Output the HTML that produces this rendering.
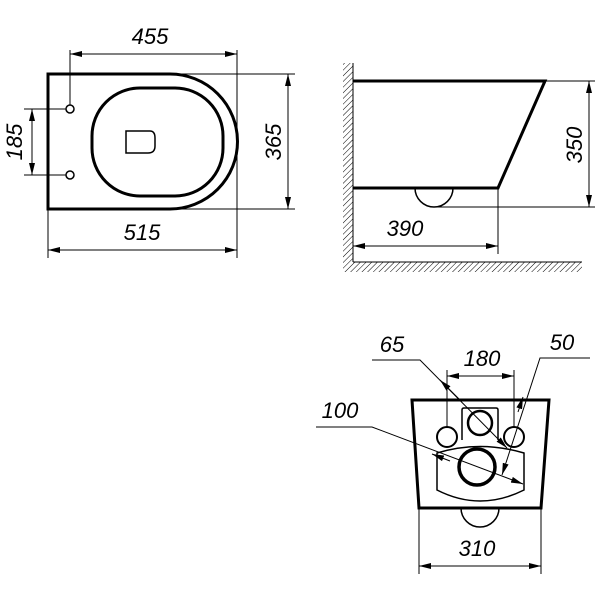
<!DOCTYPE html>
<html><head><style>body{margin:0;background:#fff}svg{display:block}text{font-family:"Liberation Sans",sans-serif;font-style:italic;font-size:22px;fill:#000}</style></head>
<body>
<svg width="600" height="600" viewBox="0 0 600 600" xmlns="http://www.w3.org/2000/svg">
<defs>
<marker id="a" viewBox="0 0 12 6" refX="12" refY="3" markerWidth="12" markerHeight="6" orient="auto-start-reverse" markerUnits="userSpaceOnUse"><path d="M0,0 L12,3 L0,6 Z" fill="#000"/></marker>
<pattern id="h" width="4" height="4" patternUnits="userSpaceOnUse" patternTransform="rotate(45)"><line x1="0" y1="0" x2="0" y2="4" stroke="#000" stroke-width="1"/></pattern>
</defs>
<g fill="none" stroke="#000">
<!-- Top view -->
<path d="M48,74 H170 A67.5,67.5 0 0 1 170,209 H48 Z" stroke-width="3"/>
<rect x="92" y="88" width="131" height="108" rx="48" stroke-width="3"/>
<path d="M126,131 H150 Q155,131 155,138 V146 Q155,153 148,153 H126 Z" stroke-width="1.5"/>
<circle cx="70" cy="109" r="4" stroke-width="1.5"/>
<circle cx="70" cy="175" r="4" stroke-width="1.5"/>
<g stroke-width="1">
<line x1="70" y1="50" x2="70" y2="105"/>
<line x1="237" y1="50" x2="237" y2="258"/>
<line x1="70" y1="54" x2="237" y2="54" marker-start="url(#a)" marker-end="url(#a)"/>
<line x1="24" y1="109" x2="66" y2="109"/>
<line x1="24" y1="175" x2="66" y2="175"/>
<line x1="32" y1="109" x2="32" y2="175" marker-start="url(#a)" marker-end="url(#a)"/>
<line x1="170" y1="74" x2="295" y2="74"/>
<line x1="170" y1="209" x2="295" y2="209"/>
<line x1="288" y1="74" x2="288" y2="209" marker-start="url(#a)" marker-end="url(#a)"/>
<line x1="48" y1="209" x2="48" y2="258"/>
<line x1="48" y1="250" x2="237" y2="250" marker-start="url(#a)" marker-end="url(#a)"/>
</g>
<!-- Side view -->
<rect x="343" y="63" width="10" height="199" fill="url(#h)" stroke="none"/>
<rect x="343" y="262" width="239" height="10" fill="url(#h)" stroke="none"/>
<line x1="353" y1="63" x2="353" y2="262" stroke-width="1"/>
<line x1="353" y1="262" x2="582" y2="262" stroke-width="1"/>
<path d="M353,81 H545 L498,188 H353" stroke-width="3"/>
<path d="M415,188 A19,19 0 0 0 453,188" stroke-width="1.5"/>
<g stroke-width="1">
<line x1="545" y1="81" x2="595" y2="81"/>
<line x1="434" y1="207" x2="595" y2="207"/>
<line x1="589" y1="81" x2="589" y2="207" marker-start="url(#a)" marker-end="url(#a)"/>
<line x1="498" y1="188" x2="498" y2="254"/>
<line x1="353" y1="246" x2="498" y2="246" marker-start="url(#a)" marker-end="url(#a)"/>
</g>
<!-- Front view -->
<path d="M412,400 H549 L541,508 H419 Z" stroke-width="3"/>
<path d="M462,440 V410 Q462,408 464,408 H496 Q498,408 498,410 V440" stroke-width="1.5"/>
<circle cx="480" cy="423" r="12" stroke-width="2.5"/>
<circle cx="447" cy="437" r="10" stroke-width="2"/>
<circle cx="514" cy="437" r="10" stroke-width="2"/>
<path d="M437,453 Q480,440 524,453 V490 Q480,512 437,490 Z" stroke-width="1.5"/>
<circle cx="477" cy="467" r="18" stroke-width="3.5"/>
<path d="M461,508 A19,19 0 0 0 499,508" stroke-width="1.5"/>
<g stroke-width="1">
<line x1="447" y1="370" x2="447" y2="427"/>
<line x1="514" y1="370" x2="514" y2="427"/>
<line x1="447" y1="376" x2="514" y2="376" marker-start="url(#a)" marker-end="url(#a)"/>
<line x1="419" y1="508" x2="419" y2="574"/>
<line x1="541" y1="508" x2="541" y2="574"/>
<line x1="419" y1="566" x2="541" y2="566" marker-start="url(#a)" marker-end="url(#a)"/>
<polyline points="372,360 420,360 507,448" marker-end="url(#a)"/>
<line x1="460" y1="400" x2="440" y2="380" marker-end="url(#a)"/>
<polyline points="316,427 372,427 523,484" marker-end="url(#a)"/>
<line x1="450" y1="461" x2="432" y2="454" marker-end="url(#a)"/>
<polyline points="590,358 540,358 502,475" marker-end="url(#a)"/>
<line x1="518" y1="412" x2="523" y2="397" marker-end="url(#a)"/>
</g>
</g>
<text x="150" y="44" text-anchor="middle">455</text>
<text x="142" y="240" text-anchor="middle">515</text>
<text transform="translate(22,142) rotate(-90)" text-anchor="middle">185</text>
<text transform="translate(281,142) rotate(-90)" text-anchor="middle">365</text>
<text transform="translate(582,145) rotate(-90)" text-anchor="middle">350</text>
<text x="405" y="236" text-anchor="middle">390</text>
<text x="392" y="352" text-anchor="middle">65</text>
<text x="482" y="366" text-anchor="middle">180</text>
<text x="562" y="350" text-anchor="middle">50</text>
<text x="340" y="418" text-anchor="middle">100</text>
<text x="477" y="556" text-anchor="middle">310</text>
</svg>
</body></html>
